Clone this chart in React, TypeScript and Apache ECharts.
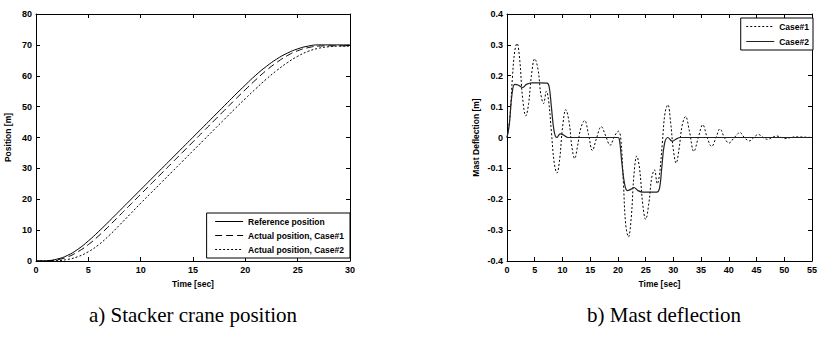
import React, { useEffect, useRef } from "react";
import * as echarts from "echarts";

// ---- Left chart: stacker crane position ----
const posTime = [0,1,2,3,4,5,6,7,8,9,10,11,12,13,14,15,16,17,18,19,20,21,22,23,24,25,26,27,28,29,30];
const refPos = [0,0.1,0.6,1.8,3.8,6.5,9.6,12.9,16.3,19.7,23.1,26.5,29.9,33.3,36.7,40.1,43.5,46.9,50.3,53.7,57.0,60.2,63.0,65.4,67.3,68.7,69.6,70.0,70.0,70.0,70.0];
const case1Pos = [0,0.05,0.4,1.3,3.0,5.3,8.2,11.4,14.8,18.2,21.6,25.0,28.4,31.8,35.2,38.6,42.0,45.4,48.8,52.2,55.5,58.7,61.7,64.3,66.5,68.1,69.1,69.6,69.7,69.7,69.7];
const case2Pos = [0,0.02,0.12,0.5,1.4,3.0,5.3,8.3,11.7,15.2,18.7,22.1,25.5,28.9,32.3,35.7,39.1,42.5,45.9,49.3,52.6,55.8,58.9,61.7,64.2,66.3,67.9,68.9,69.4,69.6,69.6];
const posXTicks = { min: 0, max: 30, interval: 5 };
const posYTicks = { min: 0, max: 80, interval: 10 };

// ---- Right chart: mast deflection ----
const defCase1T = [0,0.5,1.0,1.4,1.8,2.3,2.8,3.4,3.9,4.4,5.0,5.6,6.1,6.6,7.1,7.5,8.0,8.5,9.0,9.5,10.0,10.6,11.2,11.7,12.2,12.7,13.3,14.0,14.7,15.4,16.1,17.0,17.8,18.6,19.4,20.1,20.5,21.0,21.4,21.9,22.4,22.9,23.4,23.9,24.5,25.0,25.6,26.1,26.6,27.1,27.5,28.0,28.5,29.0,29.5,30.0,30.5,31.0,31.6,32.2,32.9,33.7,34.5,35.3,36.1,36.9,37.7,38.4,39.2,40.0,41.0,42.0,42.8,43.7,44.5,45.3,46.2,47.0,47.8,48.6,49.5,50.3,51.2,52.0,55.0];
const defCase1V = [0,0.06,0.2,0.28,0.305,0.25,0.13,0.07,0.11,0.2,0.255,0.22,0.14,0.11,0.15,0.12,0.02,-0.08,-0.115,-0.07,0.03,0.09,0.05,-0.03,-0.068,-0.03,0.03,0.055,0.01,-0.042,-0.005,0.035,0.005,-0.025,0.005,0.02,0.0,-0.15,-0.28,-0.322,-0.26,-0.12,-0.06,-0.1,-0.22,-0.265,-0.21,-0.13,-0.105,-0.15,-0.12,-0.02,0.08,0.106,0.05,-0.04,-0.083,-0.04,0.04,0.068,0.02,-0.045,0.0,0.041,0.0,-0.029,0.0,0.028,0.0,-0.018,0.0,0.016,0.0,-0.011,0.0,0.01,0.0,-0.006,0.0,0.005,0.0,-0.003,0.0,0.002,0.0];
const defCase2T = [0,0.4,0.9,1.4,2.0,2.8,3.5,4.5,6.0,7.2,7.6,8.0,8.5,9.0,9.6,10.2,11.0,12.0,20.0,20.3,20.7,21.2,21.7,22.3,22.9,23.6,24.5,27.0,27.5,27.9,28.4,29.0,29.8,30.5,31.2,55.0];
const defCase2V = [0,0.04,0.14,0.172,0.17,0.162,0.172,0.177,0.177,0.176,0.165,0.1,0.02,0.0,0.012,0.008,0.0,0.0,0.0,-0.01,-0.08,-0.15,-0.172,-0.168,-0.162,-0.172,-0.177,-0.177,-0.165,-0.1,-0.02,0.0,-0.012,-0.005,0.0,0.0];
const defXTicks = { min: 0, max: 55, interval: 5 };
const defYTicks = { min: -0.4, max: 0.4, interval: 0.1 };

const FONT = "Liberation Sans";

const pairs = (t: number[], v: number[]) => t.map((x, i) => [x, v[i]]);

function mirrorAxis(gridIndex: number, position: string, ticks: any) {
  return {
    type: "value",
    gridIndex,
    position,
    ...ticks,
    axisLabel: { show: false },
    axisLine: { show: true, onZero: false, lineStyle: { color: "#000", width: 1 } },
    axisTick: { show: true, inside: true, length: 4, lineStyle: { color: "#000" } },
    splitLine: { show: false },
  };
}

function mainAxis(gridIndex: number, position: string, ticks: any, name: string, nameGap: number, fmt?: any) {
  return {
    type: "value",
    gridIndex,
    position,
    ...ticks,
    name,
    nameLocation: "middle",
    nameGap,
    nameTextStyle: { fontFamily: FONT, fontSize: 8.5, fontWeight: "bold", color: "#000" },
    axisLabel: { show: true, fontFamily: FONT, fontSize: 9, fontWeight: "bold", color: "#000", margin: 4, showMaxLabel: true, showMinLabel: true, formatter: fmt },
    axisLine: { show: true, onZero: false, lineStyle: { color: "#000", width: 1 } },
    axisTick: { show: true, inside: true, length: 4, lineStyle: { color: "#000" } },
    splitLine: { show: false },
  };
}

export default function App() {
  const ref = useRef<HTMLDivElement>(null);
  useEffect(() => {
    document.body.style.margin = "0";
    const chart = echarts.init(ref.current!, undefined, { renderer: "svg" });
    const defFmt = (v: number) => String(Math.round(v * 10) / 10);
    const legendText = { fontFamily: FONT, fontSize: 8.5, fontWeight: "bold", color: "#000" };
    chart.setOption({
      animation: false,
      backgroundColor: "#fff",
      grid: [
        { left: 36, top: 14, width: 314, height: 247, containLabel: false },
        { left: 507, top: 14, width: 312, height: 247, containLabel: false },
      ],
      xAxis: [
        mainAxis(0, "bottom", posXTicks, "Time [sec]", 18),
        mirrorAxis(0, "top", posXTicks),
        mainAxis(1, "bottom", defXTicks, "Time [sec]", 18),
        mirrorAxis(1, "top", defXTicks),
      ],
      yAxis: [
        mainAxis(0, "left", posYTicks, "Position [m]", 24),
        mirrorAxis(0, "right", posYTicks),
        mainAxis(1, "left", defYTicks, "Mast Deflection [m]", 27, defFmt),
        mirrorAxis(1, "right", defYTicks),
      ],
      legend: [
        {
          data: ["Reference position", "Actual position, Case#1", "Actual position, Case#2"],
          orient: "vertical",
          right: 470,
          top: 213,
          itemWidth: 28,
          itemHeight: 8,
          itemGap: 5,
          padding: [4, 6, 4, 8],
          borderColor: "#000",
          borderWidth: 1,
          backgroundColor: "#fff",
          itemStyle: { opacity: 0 },
          lineStyle: { width: 1 },
          textStyle: legendText,
          selectedMode: false,
        },
        {
          data: ["Case#1", "Case#2"],
          orient: "vertical",
          right: 7,
          top: 18,
          itemWidth: 28,
          itemHeight: 8,
          itemGap: 6,
          padding: [4, 4, 4, 5],
          borderColor: "#000",
          borderWidth: 1,
          backgroundColor: "#fff",
          itemStyle: { opacity: 0 },
          lineStyle: { width: 1 },
          textStyle: legendText,
          selectedMode: false,
        },
      ],
      graphic: [
        { type: "text", style: { text: "a) Stacker crane position", x: 193, y: 315, align: "center", verticalAlign: "middle", fontFamily: "Liberation Serif", fontSize: 21, fill: "#000" } },
        { type: "text", style: { text: "b) Mast deflection", x: 664, y: 315, align: "center", verticalAlign: "middle", fontFamily: "Liberation Serif", fontSize: 21, fill: "#000" } },
      ],
      series: [
        {
          name: "Reference position", type: "line", xAxisIndex: 0, yAxisIndex: 0, symbol: "none", smooth: true,
          data: pairs(posTime, refPos), lineStyle: { color: "#000", width: 1, type: "solid" }, itemStyle: { color: "#000" },
        },
        {
          name: "Actual position, Case#1", type: "line", xAxisIndex: 0, yAxisIndex: 0, symbol: "none", smooth: true,
          data: pairs(posTime, case1Pos), lineStyle: { color: "#000", width: 1, type: [7, 4] }, itemStyle: { color: "#000" },
        },
        {
          name: "Actual position, Case#2", type: "line", xAxisIndex: 0, yAxisIndex: 0, symbol: "none", smooth: true,
          data: pairs(posTime, case2Pos), lineStyle: { color: "#000", width: 1, type: [2, 2] }, itemStyle: { color: "#000" },
        },
        {
          name: "Case#1", type: "line", xAxisIndex: 2, yAxisIndex: 2, symbol: "none", smooth: 0.4,
          data: pairs(defCase1T, defCase1V), lineStyle: { color: "#000", width: 1, type: [2, 2] }, itemStyle: { color: "#000" },
        },
        {
          name: "Case#2", type: "line", xAxisIndex: 2, yAxisIndex: 2, symbol: "none", smooth: 0.4,
          data: pairs(defCase2T, defCase2V), lineStyle: { color: "#222", width: 1.2, type: "solid" }, itemStyle: { color: "#222" },
        },
      ],
    });
    return () => chart.dispose();
  }, []);
  return <div ref={ref} style={{ width: 820, height: 337 }} />;
}
